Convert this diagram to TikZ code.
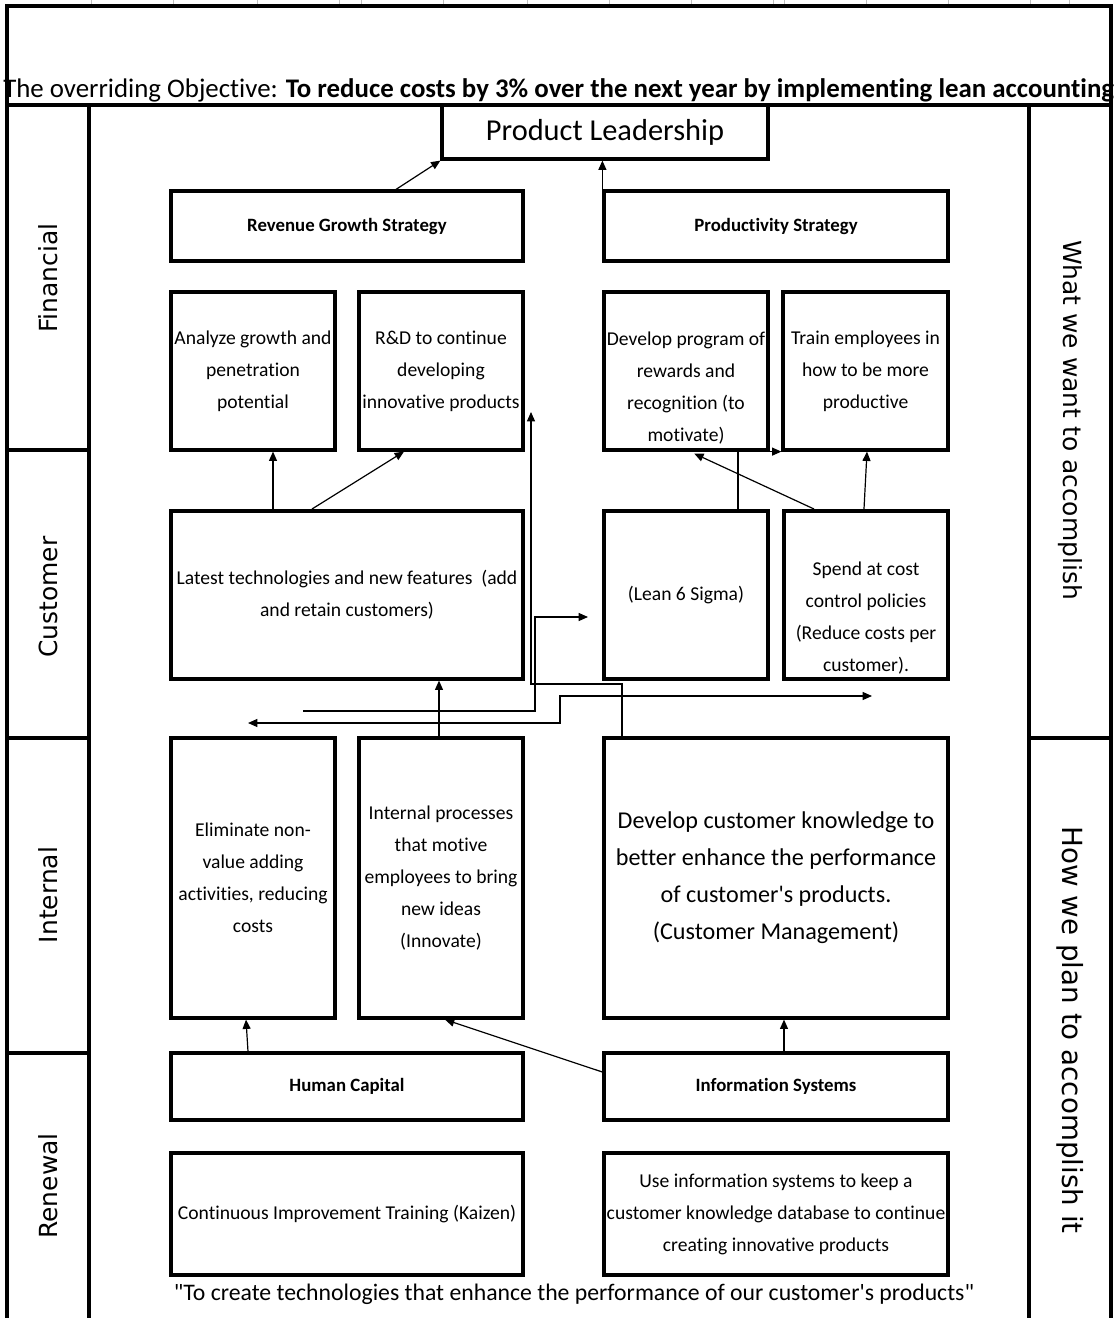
\documentclass[tikz,border=0pt]{standalone}
\usepackage{fontspec}
\setmainfont{Carlito}[Ligatures={TeXOff,NoCommon}]
\newfontfamily\sidefont{DejaVu Sans}
\usetikzlibrary{arrows.meta,calc}

\begin{document}
\begin{tikzpicture}[x=0.75pt,y=-0.75pt,
  frame/.style={line width=2.4pt},
  sz/.style 2 args={minimum width=0.75*#1pt, minimum height=0.75*#2pt},
  box/.style={draw,line width=2.4pt,inner sep=0pt,align=center,
    font=\fontsize{14.7}{24}\selectfont},
  boxtext/.style={inner sep=0pt,align=center,font=\fontsize{14.7}{24}\selectfont},
  head/.style={font=\bfseries\fontsize{14.1}{17}\selectfont},
  side/.style={inner sep=0pt,font=\sidefont\fontsize{18.7}{22}\selectfont},
  conn/.style={line width=0.9pt},
  tip/.style={-{Triangle[length=7pt,width=6pt]}},
  tips/.style={{Triangle[length=7pt,width=6pt]}-{Triangle[length=7pt,width=6pt]}},
]
\useasboundingbox (0,0) rectangle (1115,1318);

% faint sheet grid ticks along the top edge
\foreach \gx in {91,173,257,339,361,443,527,609,691,773,784,866,948,1030,1069}
  \draw[gray!50,line width=0.6pt] (\gx,0) -- (\gx,5);

% outer frame, title rule and the two side columns
\draw[frame] (7,1318) -- (7,6) -- (1111,6) -- (1111,1318);
\draw[line width=3pt] (7,105) -- (1111,105);
\draw[frame] (89,105) -- (89,1318);
\draw[frame] (7,450) -- (89,450);
\draw[frame] (7,738) -- (89,738);
\draw[frame] (7,1053) -- (89,1053);
\draw[frame] (1029,105) -- (1029,1318);
\draw[frame] (1029,738) -- (1111,738);

% title
\node[anchor=base west,inner sep=0pt,font=\fontsize{20.15}{24}\selectfont] (title) at (3,97)
  {The overriding Objective: \textbf{To reduce costs by 3\% over the next year by implementing lean accounting}};

% perspective labels
\node[side,rotate=90] (fin) at (48,278) {Financial};
\node[side,rotate=90] (cus) at (48,597) {Customer};
\node[side,rotate=90] (int) at (48,895) {Internal};
\node[side,rotate=90] (ren) at (48,1186) {Renewal};
\node[side,rotate=-90] (want) at (1070,420) {What we want to accomplish};
\node[side,rotate=-90,font=\sidefont\fontsize{20.8}{24}\selectfont] (how) at (1070,1030) {How we plan to accomplish it};

% goal
\node[box,sz={326}{54},font=\fontsize{22.8}{26}\selectfont] (pl) at (605,132) {Product Leadership};

% financial
\node[box,sz={352}{70},head] (rgs) at (347,226) {Revenue Growth Strategy};
\node[box,sz={344}{70},head] (ps) at (776,226) {Productivity Strategy};
\node[box,sz={164}{158}] (ana) at (253,371) {Analyze growth and\\penetration\\potential};
\node[box,sz={164}{158}] (rd) at (441,371) {R\&D to continue\\developing\\innovative products};
\node[box,sz={164}{158}] (dp) at (686,371) {};
\node[boxtext] (dpt) at (686,388) {Develop program of\\rewards and\\recognition (to\\motivate)};
\node[box,sz={165}{158}] (tr) at (865.5,371) {Train employees in\\how to be more\\productive};

% customer
\node[box,sz={352}{168}] (lt) at (347,595) {Latest technologies and new features\ \ (add\\and retain customers)};
\node[box,sz={164}{168}] (ls) at (686,595) {(Lean 6 Sigma)};
\node[box,sz={164}{168}] (sp) at (866,595) {};
\node[boxtext] (spt) at (866,618) {Spend at cost\\control policies\\(Reduce costs per\\customer).};

% internal
\node[box,sz={164}{280}] (el) at (253,878) {Eliminate non-\\value adding\\activities, reducing\\costs};
\node[box,sz={164}{280}] (ip) at (441,878) {Internal processes\\that motive\\employees to bring\\new ideas\\(Innovate)};
\node[box,sz={344}{280},font=\fontsize{18.1}{27.75}\selectfont] (dck) at (776,878)
  {Develop customer knowledge to\\better enhance the performance\\of customer's products.\\(Customer Management)};

% renewal
\node[box,sz={352}{67},head] (hc) at (347,1086.5) {Human Capital};
\node[box,sz={344}{67},head] (is) at (776,1086.5) {Information Systems};
\node[box,sz={352}{122}] (ci) at (347,1214) {Continuous Improvement Training (Kaizen)};
\node[box,sz={344}{122}] (ui) at (776,1214) {Use information systems to keep a\\customer knowledge database to continue\\creating innovative products};

\node[inner sep=0pt,font=\fontsize{17.8}{21}\selectfont] (motto) at (574,1294)
  {"To create technologies that enhance the performance of our customer's products"};

% free ends of the routed connectors
\coordinate (rdtip) at (531,412);
\coordinate (kfrom) at (303,711);
\coordinate (kto) at (588,617);
\coordinate (wl) at (248,723);
\coordinate (wr) at (872,696);

% connectors
\draw[conn,tip] (396,0 |- rgs.north) -- (pl.south west);
\draw[conn,tip] (ps.north west) -- (ps.north west |- pl.south);
\draw[conn,tip] (273,0 |- lt.north) -- (273,0 |- ana.south);
\draw[conn,tip] (312,509) -- (404,0 |- rd.south);
\draw[conn,tip] (622,0 |- dck.north) -- (622,684) -- (531,684) -- (rdtip);
\draw[conn,tip] (kfrom) -- (535,711) -- (535,617) -- (kto);
\draw[conn,tips] (wl) -- (560,723) -- (560,696) -- (wr);
\draw[conn,tip] (439,0 |- ip.north) -- (439,0 |- lt.south);
\draw[conn,tip] (738,0 |- ls.north) |- (tr.south west);
\draw[conn,tip,shorten >=3.5pt] (814,509) -- (690,0 |- dp.south);
\draw[conn,tip] (864,509) -- (867,0 |- tr.south);
\draw[conn,tip] (248,0 |- hc.north) -- (246,0 |- el.south);
\draw[conn,tip] (is.west |- 0,1072) -- (445,0 |- ip.south);
\draw[conn,tip] (784,0 |- is.north) -- (784,0 |- dck.south);
\end{tikzpicture}
\end{document}
